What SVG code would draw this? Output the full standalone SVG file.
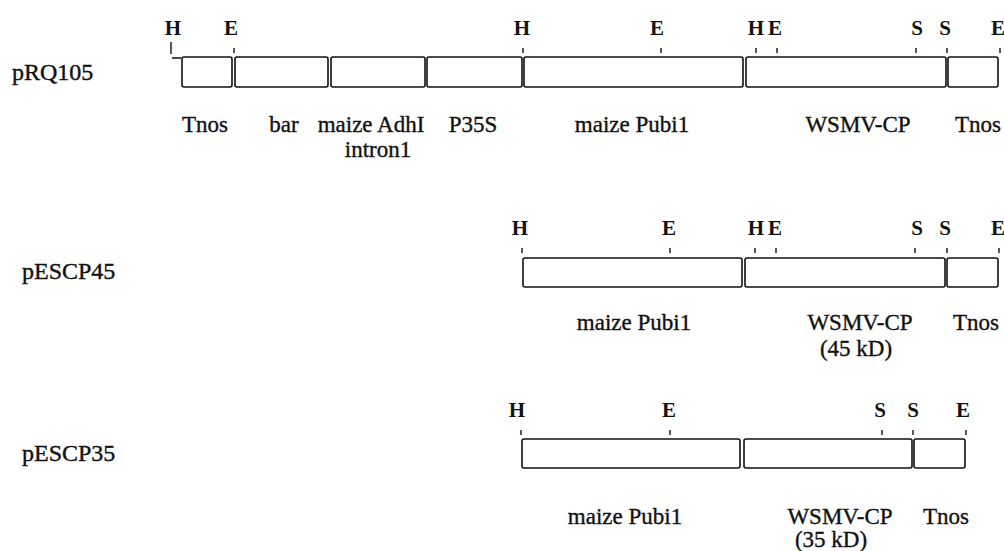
<svg xmlns="http://www.w3.org/2000/svg" width="1004" height="551" viewBox="0 0 1004 551">
<style>
.bg{fill:#fff}
.box{fill:#fff;stroke:#111;stroke-width:1.6}
.tick{stroke:#111;stroke-width:1.4;fill:none}
.site{font-family:"Liberation Serif",serif;font-weight:bold;font-size:21px;fill:#111;text-anchor:middle}
.lbl{font-family:"Liberation Serif",serif;font-size:23px;fill:#111;stroke:#111;stroke-width:0.35;text-anchor:middle}
.name{font-family:"Liberation Serif",serif;font-size:24px;fill:#111;stroke:#111;stroke-width:0.4}
</style>
<rect class="bg" x="0" y="0" width="1004" height="551"/>

<g id="pRQ105">
<text class="name" x="12" y="80">pRQ105</text>
<g id="pRQ105-sites">
<text class="site" x="173" y="35">H</text>
<text class="site" x="231" y="35">E</text>
<text class="site" x="522" y="35">H</text>
<text class="site" x="657" y="35">E</text>
<text class="site" x="756" y="35">H</text>
<text class="site" x="775" y="35">E</text>
<text class="site" x="917" y="35">S</text>
<text class="site" x="945" y="35">S</text>
<text class="site" x="998" y="35">E</text>
</g>
<g id="pRQ105-ticks">
<path class="tick" d="M171 42V54M172 58H181"/>
<path class="tick" d="M234 48V53M523 48V53M661 48V53M756 48V53M777 48V53M916 48V53M947 48V53M1000 48V53"/>
</g>
<g id="pRQ105-segments">
<rect class="box" x="182" y="57" width="50" height="30" rx="2"/>
<rect class="box" x="235" y="57" width="93" height="30" rx="2"/>
<rect class="box" x="331" y="57" width="94" height="30" rx="2"/>
<rect class="box" x="427" y="57" width="95" height="30" rx="2"/>
<rect class="box" x="524" y="57" width="219" height="30" rx="2"/>
<rect class="box" x="746" y="57" width="200" height="30" rx="2"/>
<rect class="box" x="948" y="57" width="50" height="30" rx="2"/>
</g>
<g id="pRQ105-labels">
<text class="lbl" x="205" y="132">Tnos</text>
<text class="lbl" x="284" y="132">bar</text>
<text class="lbl" x="371" y="132">maize AdhI</text>
<text class="lbl" x="473" y="132">P35S</text>
<text class="lbl" x="378" y="157">intron1</text>
<text class="lbl" x="632" y="132">maize Pubi1</text>
<text class="lbl" x="858" y="132">WSMV-CP</text>
<text class="lbl" x="978" y="132">Tnos</text>
</g>
</g>

<g id="pESCP45">
<text class="name" x="22" y="279">pESCP45</text>
<g id="pESCP45-sites">
<text class="site" x="520" y="235">H</text>
<text class="site" x="669" y="235">E</text>
<text class="site" x="756" y="235">H</text>
<text class="site" x="775" y="235">E</text>
<text class="site" x="917" y="235">S</text>
<text class="site" x="945" y="235">S</text>
<text class="site" x="998" y="235">E</text>
</g>
<path class="tick" d="M522 248V253M670 248V253M755 248V253M776 248V253M915 248V253M947 248V253M999 248V253"/>
<g id="pESCP45-segments">
<rect class="box" x="523" y="258" width="219" height="29" rx="2"/>
<rect class="box" x="745" y="258" width="200" height="29" rx="2"/>
<rect class="box" x="947" y="258" width="51" height="29" rx="2"/>
</g>
<g id="pESCP45-labels">
<text class="lbl" x="634" y="330">maize Pubi1</text>
<text class="lbl" x="860" y="330">WSMV-CP</text>
<text class="lbl" x="856" y="356">(45 kD)</text>
<text class="lbl" x="976" y="330">Tnos</text>
</g>
</g>

<g id="pESCP35">
<text class="name" x="22" y="461">pESCP35</text>
<g id="pESCP35-sites">
<text class="site" x="517" y="417">H</text>
<text class="site" x="669" y="417">E</text>
<text class="site" x="880" y="417">S</text>
<text class="site" x="913" y="417">S</text>
<text class="site" x="963" y="417">E</text>
</g>
<path class="tick" d="M521 430V435M670 430V435M882 430V435M913 430V435M966 430V435"/>
<g id="pESCP35-segments">
<rect class="box" x="522" y="439" width="218" height="29" rx="2"/>
<rect class="box" x="744" y="439" width="168" height="29" rx="2"/>
<rect class="box" x="914" y="439" width="51" height="29" rx="2"/>
</g>
<g id="pESCP35-labels">
<text class="lbl" x="625" y="524">maize Pubi1</text>
<text class="lbl" x="840" y="524">WSMV-CP</text>
<text class="lbl" x="831" y="547">(35 kD)</text>
<text class="lbl" x="946" y="524">Tnos</text>
</g>
</g>
</svg>
